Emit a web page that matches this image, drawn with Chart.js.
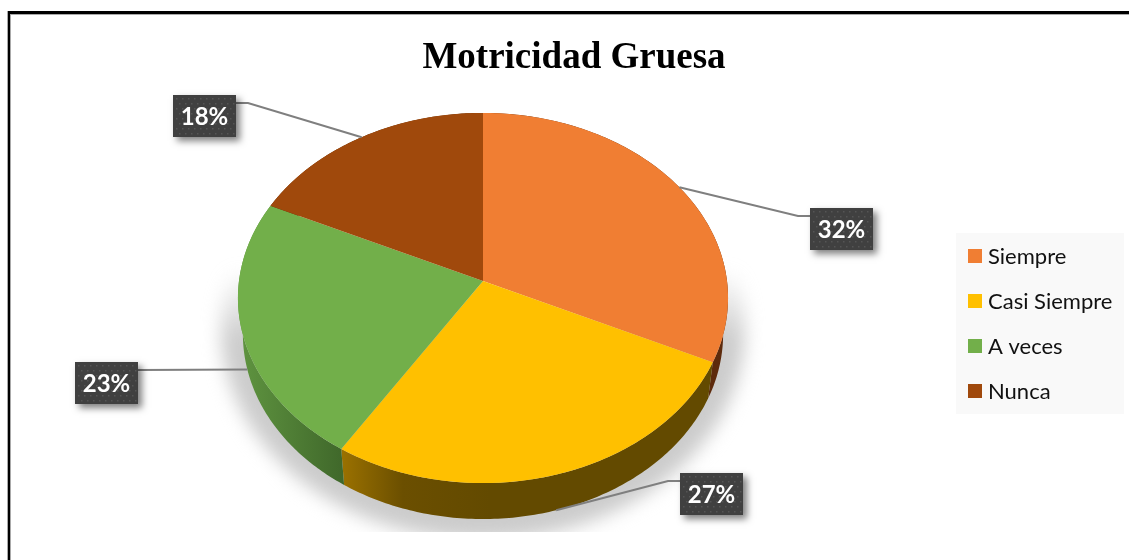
<!DOCTYPE html>
<html><head><meta charset="utf-8">
<style>html,body{margin:0;padding:0;background:#fff;overflow:hidden}#w{position:relative;width:1129px;height:560px}canvas{display:block}</style>
<script src="https://cdn.jsdelivr.net/npm/chart.js@4"></script>
</head><body><div id="w"><canvas id="c" width="1129" height="560"></canvas></div>
<script>
const categories = ['Siempre', 'Casi Siempre', 'A veces', 'Nunca'];
const percentages = [32, 27, 23, 18];
const sliceColors = ['#F07E33', '#FFC000', '#72AF4A', '#A0490C'];
const chartTitle = 'Motricidad Gruesa';

// Perspective view of the disc
const view = {cx: 483, cy: 281, a: 244, b: 183.5, k: 0.0918, depth: 36, shrink: 0.98};
const wallStops = [
  [[0, '#5d2a0c'], [1, '#5d2a0c']],
  [[0, '#9c7200'], [0.42, '#6b4f00'], [1, '#634a00']],
  [[0, '#5f9440'], [1, '#3f672a']],
  [[0, '#5a2a08'], [1, '#5a2a08']]
];
const wallBands = [[690, 730], [340, 490], [240, 345], [240, 490]];
const labelBoxes = [
  {x: 810, y: 208, elbow: 798, onWall: false},
  {x: 680, y: 473, elbow: 668, onWall: true},
  {x: 75, y: 362, elbow: 139, onWall: true},
  {x: 173, y: 95, elbow: 248, onWall: false}
];
const boxW = 63, boxH = 42;
const legendPanel = {x: 956, y: 233, w: 168, h: 181};
const legendRow = {x: 968, y: 256, gap: 45, box: 14};

function project(angle, wall) {
  // angle in Chart.js radians, -PI/2 at the top
  const u = Math.cos(angle), v = Math.sin(angle), w = 1 - view.k * v;
  let x = view.a * u / w, y = view.cy + view.b * v / w;
  if (wall) { x *= view.shrink; y += view.depth; }
  return [view.cx + x, y];
}

function drawDisc(chart) {
  const ctx = chart.ctx, arcs = chart.getDatasetMeta(0).data;
  const ax = arcs[0].x, ay = arcs[0].y, R = arcs[0].outerRadius;
  const vOf = r => { const d = r - view.cy; return d / (view.b + view.k * d); };
  const top = Math.floor(view.cy - view.b / (1 + view.k)) - 1;
  const bot = Math.ceil(view.cy + view.b / (1 - view.k)) + 1;
  for (let r = top; r < bot; r++) {
    const v1 = vOf(r), v2 = vOf(r + 1), w = 1 - view.k * (v1 + v2) / 2;
    const sx = (view.a / w) / R, sy = 1 / ((v2 - v1) * R);
    ctx.save();
    ctx.beginPath(); ctx.rect(0, r, chart.width, 1); ctx.clip();
    ctx.setTransform(sx, 0, 0, sy, view.cx - ax * sx, r - (ay + v1 * R) * sy);
    arcs.forEach(a => a.draw(ctx));
    ctx.restore();
  }
}

function drawShadow(ctx, w) {
  ctx.save();
  ctx.beginPath(); ctx.rect(0, 0, w, 532); ctx.clip();
  const g = ctx.createLinearGradient(0, 270, 0, 340);
  g.addColorStop(0, 'rgba(204,204,204,0)');
  g.addColorStop(1, 'rgba(204,204,204,1)');
  ctx.filter = 'blur(9px)';
  ctx.fillStyle = g;
  ctx.beginPath();
  ctx.ellipse(view.cx, 328, 262, 212, 0, 0, Math.PI * 2);
  ctx.fill();
  ctx.restore();
}

function drawWalls(chart) {
  const ctx = chart.ctx, arcs = chart.getDatasetMeta(0).data;
  arcs.forEach((a, i) => {
    const n = 120, s = a.startAngle, e = a.endAngle;
    const g = ctx.createLinearGradient(wallBands[i][0], 0, wallBands[i][1], 0);
    wallStops[i].forEach(st => g.addColorStop(st[0], st[1]));
    ctx.fillStyle = g;
    ctx.beginPath();
    for (let j = 0; j <= n; j++) { const p = project(s + (e - s) * j / n, false); j ? ctx.lineTo(p[0], p[1]) : ctx.moveTo(p[0], p[1]); }
    for (let j = n; j >= 0; j--) { const p = project(s + (e - s) * j / n, true); ctx.lineTo(p[0], p[1]); }
    ctx.closePath(); ctx.fill();
  });
}

function drawLabels(chart) {
  const ctx = chart.ctx, arcs = chart.getDatasetMeta(0).data;
  arcs.forEach((a, i) => {
    const b = labelBoxes[i], p = project((a.startAngle + a.endAngle) / 2, b.onWall);
    const ey = b.y + 8;
    ctx.strokeStyle = '#7f7f7f'; ctx.lineWidth = 2;
    ctx.beginPath(); ctx.moveTo(p[0], p[1]); ctx.lineTo(b.elbow, ey);
    ctx.lineTo(b.elbow < b.x ? b.x : b.x + boxW, ey); ctx.stroke();
    ctx.save();
    ctx.shadowColor = 'rgba(0,0,0,0.5)'; ctx.shadowBlur = 7; ctx.shadowOffsetX = 4; ctx.shadowOffsetY = 4;
    ctx.fillStyle = '#404040'; ctx.fillRect(b.x, b.y, boxW, boxH);
    ctx.restore();
    ctx.fillStyle = '#555555';
    for (let yy = b.y + 3, r = 0; yy < b.y + boxH; yy += 5, r++)
      for (let xx = b.x + 3 + (r % 2) * 3; xx < b.x + boxW - 1; xx += 6) ctx.fillRect(xx, yy, 1.5, 1.5);
    ctx.fillStyle = '#ffffff'; ctx.font = 'bold 24px Lato'; ctx.textAlign = 'center'; ctx.textBaseline = 'middle';
    ctx.fillText(percentages[i] + '%', b.x + boxW / 2, b.y + boxH / 2 + 1);
  });
}

function drawLegend(chart) {
  const ctx = chart.ctx;
  ctx.fillStyle = '#f9f9f9'; ctx.fillRect(legendPanel.x, legendPanel.y, legendPanel.w, legendPanel.h);
  categories.forEach((c, i) => {
    const y = legendRow.y + i * legendRow.gap;
    ctx.fillStyle = sliceColors[i];
    ctx.fillRect(legendRow.x, y - legendRow.box / 2, legendRow.box, legendRow.box);
    ctx.fillStyle = '#111111'; ctx.font = '22px Lato'; ctx.textAlign = 'left'; ctx.textBaseline = 'middle';
    ctx.fillText(c, legendRow.x + 20, y + 1);
  });
}

const pie3d = {
  id: 'pie3d',
  beforeDraw(chart) {
    const ctx = chart.ctx;
    ctx.save();
    ctx.fillStyle = '#fff'; ctx.fillRect(0, 0, chart.width, chart.height);
    ctx.fillStyle = '#aaa';
    ctx.fillRect(7, 14, 1122, 1);
    ctx.fillRect(7, 11, 1, 549);
    ctx.fillRect(10, 14, 1, 546);
    ctx.fillStyle = '#000';
    ctx.fillRect(8, 11, 1121, 3);
    ctx.fillRect(8, 11, 2, 549);
    ctx.restore();
  },
  beforeDatasetsDraw(chart) {
    drawShadow(chart.ctx, chart.width);
    drawWalls(chart);
    drawDisc(chart);
    return false;
  },
  afterDraw(chart) {
    chart.ctx.save();
    drawLabels(chart);
    drawLegend(chart);
    chart.ctx.restore();
  }
};

new Chart(document.getElementById('c'), {
  type: 'pie',
  data: { labels: categories, datasets: [{ data: percentages, backgroundColor: sliceColors, borderWidth: 0 }] },
  options: {
    responsive: false, animation: false,
    layout: { padding: { left: 19, top: 0 } },
    plugins: {
      legend: { display: false }, tooltip: { enabled: false },
      title: { display: true, text: chartTitle, color: '#000',
        font: { family: '"Liberation Serif"', size: 37, weight: 'bold' }, padding: { top: 36, bottom: 10 } }
    }
  },
  plugins: [pie3d]
});
</script></body></html>
